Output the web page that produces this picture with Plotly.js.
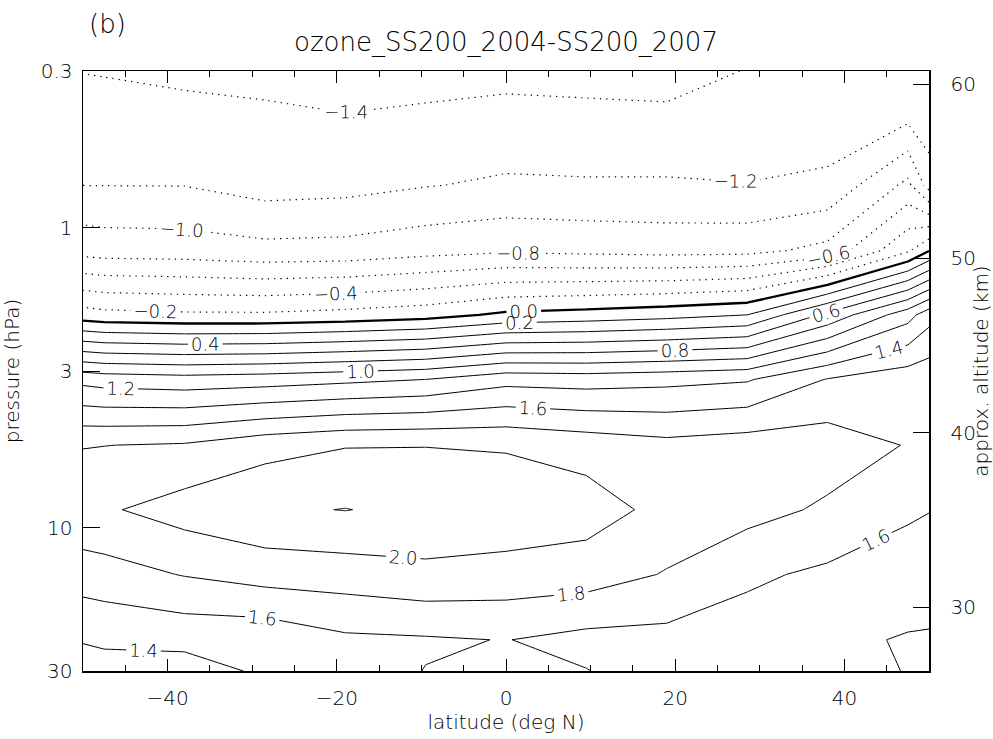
<!DOCTYPE html>
<html><head><meta charset="utf-8">
<script src="https://cdn.plot.ly/plotly-3.0.1.min.js"></script>
<style>html,body{margin:0;padding:0;background:#fff}</style>
</head><body>
<div id="chart" style="width:993px;height:739px"></div>
<script>
// latitude grid (deg N)
const latitudes = [-50, -47.5, -38, -28.5, -19, -9.5, 0, 9.5, 19, 28.5, 38, 47.5, 50];
// pressure levels (hPa)
const pressures = [0.3, 0.44, 0.72, 1.19, 1.95, 3.2, 5.3, 8.7, 14.3, 23.6, 30];
// ozone difference SS200_2004 - SS200_2007, one row per pressure level
const row003 = [-1.405, -1.41, -1.44, -1.457, -1.50, -1.475, -1.454, -1.466, -1.48, -1.392, -1.36, -1.33, -1.35];
const row044 = [-1.315, -1.327, -1.337, -1.359, -1.381, -1.358, -1.336, -1.344, -1.351, -1.306, -1.30, -1.22, -1.32];
const row072 = [-1.202, -1.203, -1.205, -1.283, -1.265, -1.21, -1.17, -1.179, -1.178, -1.195, -1.16, -0.75, -1.08];
const row119 = [-0.87, -0.89, -0.90, -0.94, -0.93, -0.87, -0.83, -0.85, -0.87, -0.86, -0.74, -0.23, -0.01];
const row195 = [-0.11, -0.14, -0.167, -0.17, -0.133, -0.08, 0.04, 0.08, 0.13, 0.20, 0.65, 1.12, 1.32];
const row320 = [1.14, 1.11, 1.08, 1.107, 1.152, 1.20, 1.33, 1.31, 1.34, 1.38, 1.61, 1.72, 1.74];
const row530 = [1.79, 1.797, 1.82, 1.93, 1.99, 1.995, 1.981, 1.92, 1.86, 1.90, 1.90, 1.79, 1.76];
const row870 = [1.96, 1.975, 2.086, 2.17, 2.205, 2.15, 2.133, 2.09, 1.94, 1.87, 1.77, 1.62, 1.605];
const row1430 = [1.70, 1.72, 1.81, 1.882, 1.901, 1.953, 1.926, 1.898, 1.786, 1.635, 1.563, 1.535, 1.507];
const row2360 = [1.41, 1.43, 1.46, 1.456, 1.564, 1.58, 1.605, 1.54, 1.537, 1.505, 1.45, 1.382, 1.379];
const row3000 = [1.33, 1.33, 1.305, 1.435, 1.50, 1.605, 1.64, 1.606, 1.50, 1.47, 1.43, 1.397, 1.36];

const pressureTicks = [0.3, 1, 3, 10, 30];
const pressureTickText = ['0.3', '1', '3', '10', '30'];
const latitudeTicks = [-40, -20, 0, 20, 40];
const latitudeTickText = ['\u221240', '\u221220', '0', '20', '40'];
const altitudeTicks = [30, 40, 50, 60];
const altitudeRange = [26.33, 60.75];
const latitudeRange = [-50, 50];
const pressureRange = [30, 0.3];

const ozoneDiff = [row003, row044, row072, row119, row195, row320, row530, row870, row1430, row2360, row3000];

const FONT = 'DejaVu Sans, Verdana, sans-serif';
const W = 300;
const labelFont = {family: FONT, size: 18, color: 'black', weight: W};

function contourTrace(start, end, lineStyle) {
  return {
    type: 'contour', x: latitudes, y: pressures, z: ozoneDiff,
    autocontour: false, showscale: false, hoverinfo: 'skip',
    contours: {coloring: 'none', start: start, end: end, size: 0.2,
               showlabels: true, labelfont: labelFont, labelformat: '.1f'},
    line: Object.assign({smoothing: 0}, lineStyle)
  };
}

const traces = [
  contourTrace(-1.4, -0.2, {color: 'black', width: 1.2, dash: '1.3px,5px'}),
  contourTrace(0, 0, {color: 'black', width: 2.3}),
  contourTrace(0.2, 2.2, {color: 'black', width: 1}),
  // carrier for the right-hand altitude axis (draws nothing)
  {type: 'scatter', x: [0], y: [null], yaxis: 'y2', mode: 'markers', hoverinfo: 'skip', showlegend: false}
];

const tickFont = {family: FONT, size: 20, color: 'black', weight: W};
const titleFont = {family: FONT, size: 20, color: 'black', weight: W};

const layout = {
  width: 993, height: 739,
  margin: {l: 83, r: 64, t: 71, b: 68},
  paper_bgcolor: 'white', plot_bgcolor: 'white',
  font: {family: FONT, color: 'black', weight: W},
  showlegend: false,
  title: {text: 'ozone_SS200_2004-SS200_2007', font: {family: FONT, size: 26, color: 'black', weight: W},
          xref: 'paper', x: 0.5, xanchor: 'center', yref: 'container', y: 0.943, yanchor: 'middle'},
  xaxis: {
    range: latitudeRange, tickvals: latitudeTicks, ticktext: latitudeTickText,
    ticks: 'inside', ticklen: 12, tickwidth: 1, tickcolor: 'black',
    minor: {dtick: 5, tick0: 0, ticks: 'inside', ticklen: 6, tickcolor: 'black', tickwidth: 1},
    showline: true, linecolor: 'black', linewidth: 1.5, mirror: 'ticks',
    showgrid: false, zeroline: false, tickfont: tickFont, ticklabelstandoff: 8,
    title: {text: 'latitude (deg N)', font: titleFont, standoff: 0}
  },
  yaxis: {
    type: 'log', range: pressureRange.map(Math.log10),
    tickvals: pressureTicks, ticktext: pressureTickText,
    ticks: 'inside', ticklen: 17, tickwidth: 1, tickcolor: 'black',
    showline: true, linecolor: 'black', linewidth: 1.5, mirror: false,
    showgrid: false, zeroline: false, tickfont: tickFont, ticklabelstandoff: 5,
    title: {text: 'pressure (hPa)', font: titleFont, standoff: 16}
  },
  yaxis2: {
    overlaying: 'y', side: 'right', anchor: 'x', range: altitudeRange, autorange: false,
    tickvals: altitudeTicks, ticks: 'inside', ticklen: 16, tickwidth: 1, tickcolor: 'black',
    showline: true, linecolor: 'black', linewidth: 1.5,
    showgrid: false, zeroline: false, tickfont: tickFont, ticklabelstandoff: 16,
    title: {text: 'approx. altitude (km)', font: titleFont, standoff: 4}
  },
  annotations: [{
    text: '(b)', xref: 'paper', yref: 'paper', x: 0.005, y: 1.078, xanchor: 'left', yanchor: 'middle',
    showarrow: false, font: {family: FONT, size: 26, color: 'black', weight: W}
  }]
};

Plotly.newPlot('chart', traces, layout, {staticPlot: true, displayModeBar: false});
</script>
</body></html>
